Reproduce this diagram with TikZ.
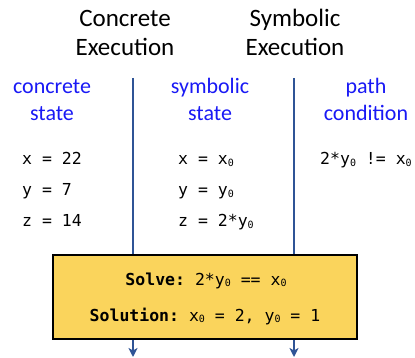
\documentclass[tikz,border=0pt]{standalone}
\usepackage{fontspec}
\setmainfont{Carlito}
\setmonofont{DejaVu Sans Mono}
\usetikzlibrary{arrows.meta}
\definecolor{lbl}{RGB}{25,25,245}
\definecolor{arr}{RGB}{47,84,150}
\definecolor{gold}{RGB}{250,212,92}
\newcommand{\zs}{\raisebox{-0.2ex}{\fontsize{10}{10}\selectfont 0}}
\begin{document}
\begin{tikzpicture}[x=1pt,y=-1pt,
  title/.style={anchor=base,inner sep=0pt,font=\fontsize{25}{29}\selectfont},
  lab/.style={anchor=base,inner sep=0pt,text=lbl,font=\fontsize{22}{27}\selectfont},
  code/.style={anchor=base west,inner sep=0pt,font=\ttfamily\fontsize{16.5}{20}\selectfont},
  bcode/.style={anchor=base,inner sep=0pt,font=\ttfamily\fontsize{16.5}{20}\selectfont},
  flow/.style={draw=arr,line width=2pt,-{Stealth[length=9pt,width=9pt,inset=2.5pt]}},
  solvebox/.style={draw=black,line width=1.6pt,fill=gold,minimum width=304pt,minimum height=84pt,inner sep=0pt}]
\useasboundingbox (0,0) rectangle (415,358);
% titles
\node[title] (c1) at (125,27) {Concrete};
\node[title] (c2) at (125,56) {Execution};
\node[title] (s1) at (295,27) {Symbolic};
\node[title] (s2) at (295,56) {Execution};
% blue labels
\node[lab] (l1a) at (52,94) {concrete};
\node[lab] (l1b) at (52,121) {state};
\node[lab] (l2a) at (210,94) {symbolic};
\node[lab] (l2b) at (210,121) {state};
\node[lab] (l3a) at (366,94) {path};
\node[lab] (l3b) at (366,121) {condition};
% arrows
\coordinate (t1) at (133,78);
\coordinate (b1) at (133,357);
\coordinate (t2) at (294,78);
\coordinate (b2) at (294,357);
\draw[flow] (t1) -- (b1);
\draw[flow] (t2) -- (b2);
% concrete state
\node[code] (cx) at (22,165) {x = 22};
\node[code] (cy) at (22,196) {y = 7};
\node[code] (cz) at (22,227) {z = 14};
% symbolic state
\node[code] (sx) at (178,165) {x = x\zs};
\node[code] (sy) at (178,196) {y = y\zs};
\node[code] (sz) at (178,227) {z = 2*y\zs};
% path condition
\node[code] (pc) at (320,165) {2*y\zs{} != x\zs};
% solve box
\node[solvebox] (box) at (204.7,297) {};
\node[bcode] (solve) at (206,285) {\textbf{Solve:} 2*y\zs{} == x\zs};
\node[bcode] (sol) at (205,321) {\textbf{Solution:} x\zs{} = 2, y\zs{} = 1};
\end{tikzpicture}
\end{document}
